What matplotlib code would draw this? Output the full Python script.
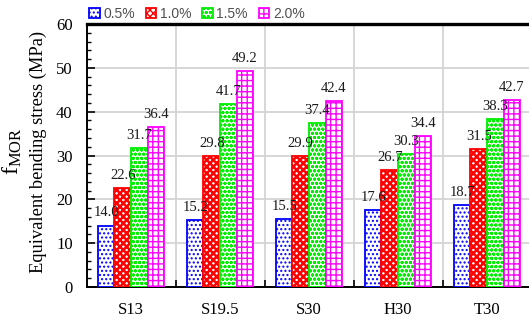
import numpy as np
import matplotlib
matplotlib.use('Agg')
import matplotlib.pyplot as plt

# 数据
groups = ['S13', 'S19.5', 'S30', 'H30', 'T30']
series = ['0.5%', '1.0%', '1.5%', '2.0%']
v_05 = [14.0, 15.2, 15.5, 17.6, 18.7]
v_10 = [22.6, 29.8, 29.9, 26.7, 31.5]
v_15 = [31.7, 41.7, 37.4, 30.3, 38.3]
v_20 = [36.4, 49.2, 42.4, 34.4, 42.7]
values = [v_05, v_10, v_15, v_20]

colors = ['#0000ff', '#ff0000', '#00ee00', '#ff00ff']
hatches = ['....', 'xxxxx', 'oooo', '+++']
hatch_lw = [1.0, 1.8, 1.0, 1.0]

plt.rcParams['font.family'] = ['Liberation Serif', 'DejaVu Serif']
plt.rcParams['mathtext.fontset'] = 'custom'
plt.rcParams['mathtext.rm'] = 'Liberation Serif'

fig = plt.figure(figsize=(5.29, 3.18), dpi=100)
ax = fig.add_axes([86.5 / 529, 31 / 318, (529 - 86.5) / 529, 263 / 318])

x = np.arange(len(groups))
w = 0.186
for i in range(4):
    pos = x + (i - 1.5) * w
    with plt.rc_context({'hatch.linewidth': hatch_lw[i]}):
        bars = ax.bar(pos, values[i], width=w, facecolor='white', edgecolor=colors[i],
                      hatch=hatches[i], linewidth=1.3, label=series[i], zorder=3)
    ax.bar_label(bars, labels=[f'{v:.1f}' for v in values[i]], padding=4.5,
                 fontsize=10.5, color='#1a1a1a', zorder=4)

ax.set_xlim(-0.5, 4.5 - 2.5 / 89)
ax.set_ylim(0, 60)

# 网格
ax.set_yticks(np.arange(0, 61, 10))
ax.set_yticks(np.arange(0, 61, 2), minor=True)
ax.set_xticks(x, groups)
ax.set_xticks(np.arange(0.5, 4.5, 1), minor=True)
ax.grid(True, which='major', axis='y', color='#d4d4d4', linewidth=1.3, zorder=0)
ax.grid(True, which='minor', axis='x', color='#d4d4d4', linewidth=1.3, zorder=0)

ax.tick_params(axis='y', which='major', direction='in', length=6, width=1.2, labelsize=12, pad=10)
ax.tick_params(axis='y', which='minor', direction='in', length=3, width=1.0)
ax.tick_params(axis='x', which='major', length=0, labelsize=12, pad=11)
ax.tick_params(axis='x', which='minor', direction='in', length=5, width=1.2)

for s in ['left', 'bottom']:
    ax.spines[s].set_linewidth(1.4)
ax.spines['top'].set_linewidth(2.4)
ax.spines['right'].set_visible(False)

# y轴标签
ax.text(-0.168, 0.515, r'$\mathregular{f_{MOR}}$', transform=ax.transAxes, rotation=90,
        fontsize=17, ha='center', va='center')
ax.text(-0.108, 0.513, 'Equivalent bending stress (MPa)', transform=ax.transAxes, rotation=90,
        fontsize=13.3, ha='center', va='center')

leg = ax.legend(loc='lower left', bbox_to_anchor=(0.0, 1.0), ncol=4, frameon=False,
                borderaxespad=0.1, borderpad=0.1, handlelength=0.75, handleheight=0.75,
                handletextpad=0.25, columnspacing=0.8,
                prop={'family': 'Liberation Sans', 'size': 10})
for t in leg.get_texts():
    t.set_color('#505050')

fig.savefig('out.png', dpi=100)
